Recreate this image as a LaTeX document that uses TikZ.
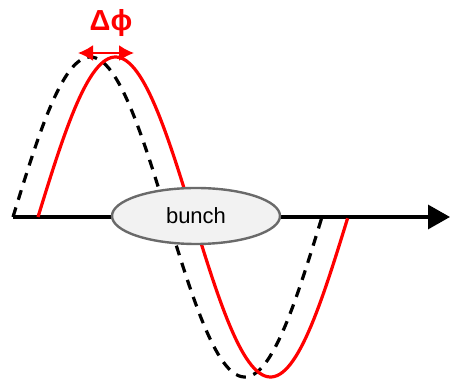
\documentclass[tikz,border=0pt]{standalone}
\usepackage{fontspec}
\setmainfont{Liberation Sans}
\usetikzlibrary{arrows.meta,positioning,shapes.geometric}
\definecolor{WaveRed}{HTML}{FF0000}
\definecolor{BunchFill}{HTML}{F2F2F2}
\definecolor{BunchEdge}{HTML}{6A6A6A}
\tikzset{
axisline/.style={line width=3.3pt, draw=black, -{Triangle[length=22pt, width=24pt]}},
refwave/.style={line width=3.2pt, draw=black, dash pattern=on 10pt off 8pt},
shiftwave/.style={line width=3.2pt, draw=WaveRed},
phasearrow/.style={{Latex[length=15pt, width=16pt]}-{Latex[length=15pt, width=16pt]}, line width=2pt, draw=WaveRed},
bunchbox/.style={ellipse, draw=BunchEdge, line width=2.4pt, fill=BunchFill, minimum width=168pt,
  minimum height=56pt, inner sep=0pt, font=\fontsize{22}{24}\selectfont},
phaselabel/.style={text=WaveRed, font=\bfseries\fontsize{29}{32}\selectfont}
}
\begin{document}
\begin{tikzpicture}[x=1pt, y=1pt]
\useasboundingbox (0,0) rectangle (451,382);
\coordinate (o) at (13,165);
\coordinate (xend) at (450,165);
\coordinate (dleft) at (78,329);
\coordinate (dright) at (134,329);

\draw[axisline] (o) -- (xend);
% reference wave and shifted wave
\draw[refwave] plot[domain=0:1, samples=120] ({13+309*\x}, {165+160*sin(360*\x)});
\draw[shiftwave] plot[domain=0:1, samples=120] ({38+310*\x}, {165+160*sin(360*\x)});

\node[bunchbox] (bunch) at (196,166) {bunch};
\draw[phasearrow] (dleft) -- (dright);
\node[phaselabel] (dphi) at (111,359) {Δϕ};
\end{tikzpicture}
\end{document}
